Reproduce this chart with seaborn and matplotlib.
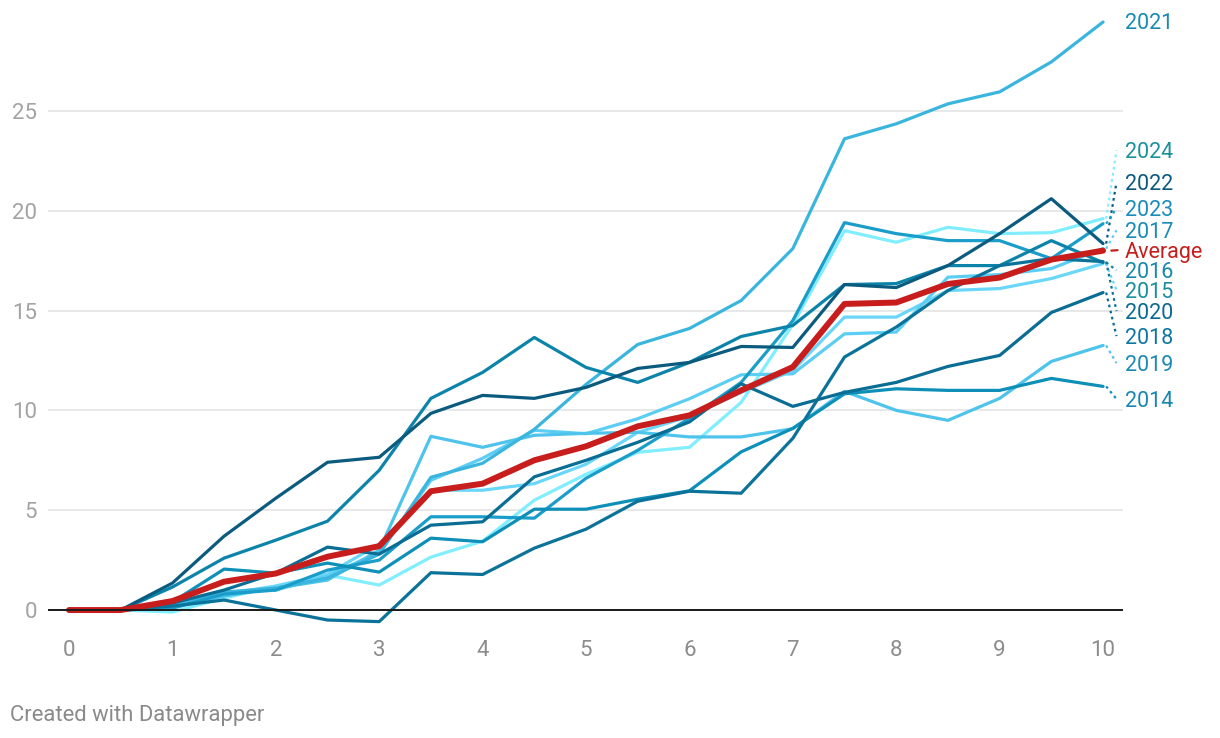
import seaborn as sns
import matplotlib.pyplot as plt
import pandas as pd

# x positions (half-steps)
x_vals = [0, 0.5, 1, 1.5, 2, 2.5, 3, 3.5, 4, 4.5, 5, 5.5, 6, 6.5, 7, 7.5, 8, 8.5, 9, 9.5, 10]

y2014 = [0, 0, 0.4, 2.05, 1.85, 2.35, 1.9, 3.6, 3.42, 5.05, 5.05, 5.55, 5.97, 7.92, 9.1, 10.83, 11.08, 11.0, 11.0, 11.6, 11.2]
y2015 = [0, 0, 0.3, 0.8, 1.2, 1.8, 3.3, 6.0, 6.0, 6.33, 7.3, 8.9, 9.7, 10.9, 12.0, 14.67, 14.67, 16.0, 16.1, 16.6, 17.35]
y2016 = [0, 0, 1.15, 2.6, 3.5, 4.45, 7.0, 10.6, 11.9, 13.65, 12.15, 11.4, 12.4, 13.7, 14.25, 16.3, 16.35, 17.25, 17.25, 18.5, 17.4]
y2017 = [0, 0, 0.2, 0.9, 1.0, 1.7, 2.9, 6.5, 7.6, 9.0, 8.83, 9.58, 10.58, 11.78, 11.83, 13.83, 13.92, 16.67, 16.8, 17.1, 18.1]
y2018 = [0, 0, 0.35, 1.0, 1.85, 3.15, 2.8, 4.25, 4.42, 6.67, 7.5, 8.4, 9.42, 11.33, 10.2, 10.9, 11.4, 12.2, 12.75, 14.9, 15.9]
y2019 = [0, 0, 0.1, 0.7, 1.1, 1.5, 3.0, 8.7, 8.15, 8.75, 8.85, 8.9, 8.67, 8.67, 9.08, 10.95, 10.0, 9.5, 10.6, 12.45, 13.25]
y2020 = [0, 0, 0.2, 0.5, 0.0, -0.5, -0.58, 1.87, 1.78, 3.1, 4.05, 5.45, 5.95, 5.85, 8.6, 12.67, 14.17, 16.0, 17.25, 17.6, 17.45]
y2021 = [0, 0, 0.3, 0.9, 1.1, 1.6, 2.8, 6.65, 7.35, 9.05, 11.3, 13.3, 14.1, 15.5, 18.1, 23.6, 24.35, 25.35, 25.95, 27.45, 29.45]
y2022 = [0, 0, 1.35, 3.7, 5.6, 7.4, 7.65, 9.85, 10.75, 10.6, 11.15, 12.1, 12.4, 13.2, 13.15, 16.3, 16.15, 17.25, 18.85, 20.6, 18.35]
y2023 = [0, 0, 0.1, 0.8, 1.0, 2.0, 2.5, 4.67, 4.67, 4.6, 6.6, 8.0, 9.6, 11.4, 14.5, 19.4, 18.85, 18.5, 18.5, 17.6, 19.35]
y2024 = [0, 0, -0.1, 0.6, 1.2, 1.75, 1.25, 2.65, 3.45, 5.5, 6.8, 7.9, 8.15, 10.4, 14.3, 19.0, 18.42, 19.17, 18.85, 18.9, 19.6]
y_avg = [0, 0, 0.45, 1.42, 1.83, 2.67, 3.2, 5.95, 6.33, 7.5, 8.2, 9.2, 9.75, 11.0, 12.17, 15.33, 15.4, 16.33, 16.65, 17.55, 18.0]

series = {
    "2014": y2014, "2015": y2015, "2016": y2016, "2017": y2017,
    "2018": y2018, "2019": y2019, "2020": y2020, "2021": y2021,
    "2022": y2022, "2023": y2023, "2024": y2024,
}

line_colors = {
    "2014": "#0e8fb8", "2015": "#6ad6f8", "2016": "#0c84aa", "2017": "#5ccdf3",
    "2018": "#0a6d94", "2019": "#4ec3ec", "2020": "#0b7399", "2021": "#3ab5de",
    "2022": "#0b5b7f", "2023": "#1b9dca", "2024": "#80eefe",
}
label_colors = {
    "2014": "#1787b0", "2015": "#1b8f9f", "2016": "#1a87ae", "2017": "#1a8ab8",
    "2018": "#0e77a0", "2019": "#1a8ab6", "2020": "#0b6a90", "2021": "#1a8ab3",
    "2022": "#0b5a7d", "2023": "#1a8cba", "2024": "#1b9199",
}
# where the end labels sit (after de-overlapping)
label_y = {
    "2021": 29.35, "2024": 22.9, "2022": 21.3, "2023": 20.0, "2017": 18.9,
    "2016": 16.9, "2015": 15.9, "2020": 14.85, "2018": 13.6, "2019": 12.25,
    "2014": 10.45,
}
avg_label_y = 17.9

sns.set_style("white")
plt.rcParams['font.family'] = ['Roboto', 'DejaVu Sans']

fig = plt.figure(figsize=(12.2, 7.38), dpi=100)
ax = fig.add_axes([48 / 1220, 1 - 634 / 738, (1123 - 48) / 1220, 623 / 738])

draw_order = ["2024", "2015", "2017", "2019", "2021", "2023", "2014", "2016", "2020", "2018", "2022"]
for yr in draw_order:
    df = pd.DataFrame({"x": x_vals, "y": series[yr]})
    sns.lineplot(data=df, x="x", y="y", ax=ax, color=line_colors[yr], linewidth=2.3,
                 solid_joinstyle="round", solid_capstyle="round")

df_avg = pd.DataFrame({"x": x_vals, "y": y_avg})
sns.lineplot(data=df_avg, x="x", y="y", ax=ax, color="#c71e1d", linewidth=4.3,
             solid_joinstyle="round", solid_capstyle="round", zorder=5)

ax.set_xlim(-0.203, 10.193)
ax.set_ylim(-1.2, 30)
ax.set_yticks([0, 5, 10, 15, 20, 25])
ax.set_xticks(range(0, 11))
ax.grid(axis="y", color="#e2e2e2", linewidth=1.1)
ax.axhline(0, color="#1a1a1a", linewidth=1.4, zorder=6)
for s in ax.spines.values():
    s.set_visible(False)
ax.tick_params(axis="y", length=0, pad=8, labelsize=16, labelcolor="#a3a3a3")
ax.tick_params(axis="x", length=0, pad=4, labelsize=16, labelcolor="#8c8c8c")
for lbl in ax.get_yticklabels():
    lbl.set_horizontalalignment("right")
ax.set_xlabel("")
ax.set_ylabel("")

# end labels with dotted connectors
for yr, ly in label_y.items():
    end = series[yr][-1]
    if abs(ly - end) > 0.4:
        ax.plot([10.03, 10.13], [end, ly + 0.12], color=line_colors[yr], linestyle=(0, (1.2, 1.6)),
                linewidth=1.6, clip_on=False)
    ax.text(10.21, ly, yr, color=label_colors[yr], fontsize=15.5, va="center", ha="left",
            clip_on=False)
ax.plot([10.08, 10.14], [y_avg[-1], avg_label_y + 0.12], color="#c71e1d", linewidth=1.6, clip_on=False)
ax.text(10.21, avg_label_y, "Average", color="#c71e1d", fontsize=15.5, va="center", ha="left",
        clip_on=False)

fig.text(10 / 1220, 1 - 715 / 738, "Created with Datawrapper", color="#8a8a8a", fontsize=15.8,
         va="center", ha="left")

fig.savefig("out.png", dpi=100)
